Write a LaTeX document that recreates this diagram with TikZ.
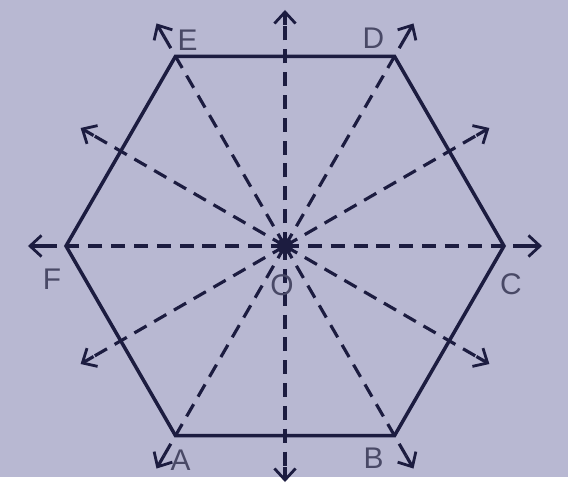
\documentclass[tikz,border=0pt]{standalone}
\usepackage{fontspec}
\setmainfont{Liberation Sans}
\usetikzlibrary{arrows.meta,calc}
\definecolor{paper}{RGB}{184,184,210}
\definecolor{ink}{RGB}{28,28,64}

\begin{document}
\begin{tikzpicture}[
    x=0.02cm, y=0.02cm,
    side/.style={ink, line width=2pt},
    ray/.style={ink, line width=1.8pt, dash pattern=on 8pt off 5pt},
    tip/.style={ink, line width=1.8pt,
      -{Straight Barb[length=6.5pt, width=12pt, line width=1.6pt]}},
    lbl/.style={text=ink!80, font=\fontsize{17}{19}\selectfont, inner sep=0pt}
  ]
    \fill[paper] (-285,-231) rectangle (283,246);

    \coordinate (O) at (0,0);
    \foreach \v/\a in {C/0, D/60, E/120, F/180, A/240, B/300} {
      \coordinate (\v) at (\a:219);
      \coordinate (t\v) at (\a:257);
    }
    \foreach \m/\a in {1/30, 2/90, 3/150, 4/210, 5/270, 6/330}
      \coordinate (t\m) at (\a:236);

    \draw[side] (A) -- (B) -- (C) -- (D) -- (E) -- (F) -- cycle;

    % dashed rays, solid end piece carries the tip
    \foreach \t in {A,B,C,D,E,F,1,2,3,4,5,6} {
      \draw[ray] (O) -- ($(t\t)!0.3cm!(O)$);
      \draw[tip] ($(t\t)!0.3cm!(O)$) -- (t\t);
    }
    \fill[ink] (O) circle (8);

    \node[lbl] (lA) at ([shift={(5,-25)}]A) {A};
    \node[lbl] (lB) at ([shift={(-21,-23)}]B) {B};
    \node[lbl] (lC) at ([shift={(7,-38)}]C) {C};
    \node[lbl] (lD) at ([shift={(-21,18)}]D) {D};
    \node[lbl] (lE) at ([shift={(12,16)}]E) {E};
    \node[lbl] (lF) at ([shift={(-14,-33)}]F) {F};
    \node[lbl] (lO) at ([shift={(-3,-39)}]O) {O};
  \end{tikzpicture}
\end{document}
